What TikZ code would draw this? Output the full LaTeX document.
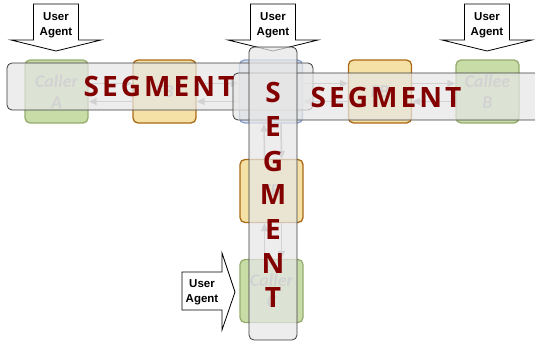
\documentclass[tikz,border=0pt]{standalone}
\usepackage{fontspec}
\setmainfont{Liberation Sans}
\newfontfamily\segfont[LetterSpace=11]{Open Sans}
\newfontfamily\vsegfont{Open Sans}
\newfontfamily\callfont{Carlito}
\usetikzlibrary{arrows.meta}
\definecolor{greenfill}{RGB}{200,220,168}
\definecolor{greenline}{RGB}{150,172,110}
\definecolor{orangefill}{RGB}{245,224,165}
\definecolor{orangeline}{RGB}{170,105,20}
\definecolor{bluefill}{RGB}{215,225,240}
\definecolor{blueline}{RGB}{140,160,205}
\definecolor{segfill}{RGB}{230,230,230}
\definecolor{segline}{RGB}{60,60,60}
\definecolor{segred}{RGB}{130,0,0}
\definecolor{arrgray}{RGB}{160,160,160}
\definecolor{txtgray}{RGB}{160,160,160}
\tikzset{
  box/.style={draw, line width=1.3pt, rounded corners=5pt, minimum width=63pt, minimum height=63pt, inner sep=0pt,
    font=\callfont\bfseries\itshape\fontsize{18}{21}\selectfont, text=txtgray, align=center},
  greenbox/.style={box, fill=greenfill, draw=greenline},
  orangebox/.style={box, fill=orangefill, draw=orangeline},
  bluebox/.style={box, fill=bluefill, draw=blueline},
  flow/.style={draw=arrgray, line width=1.5pt, -{Triangle[length=8pt,width=7pt]}},
  ua/.style={draw=black, fill=white, line width=0.8pt},
  uatext/.style={font=\bfseries\fontsize{11.5}{15}\selectfont, align=center, inner sep=0pt},
  seg/.style={draw=segline, line width=0.8pt, fill=segfill, fill opacity=0.72, rounded corners=5pt, inner sep=0pt},
  segtext/.style={text=segred, font=\segfont\bfseries\fontsize{28}{28}\selectfont, inner sep=0pt},
  vseg/.style={text=segred, font=\vsegfont\bfseries\fontsize{28}{28}\selectfont, inner sep=0pt}
}
\begin{document}
\begin{tikzpicture}[x=1pt,y=-1pt]
\useasboundingbox (0,0) rectangle (535,348);
% underlying nodes
\node[greenbox] (A) at (56.5,91.5) {Caller\\A};
\node[orangebox] (F1) at (164.5,91.5) {FB};
\node[bluebox] (X) at (271,91.5) {};
\node[orangebox] (F2) at (380,91.5) {FB};
\node[greenbox] (B) at (487.5,91.5) {Callee\\B};
\node[orangebox] (F3) at (271.5,191) {FB};
\node[greenbox] (C) at (271.5,291) {Caller\\C};
% flows
\foreach \a/\b in {A/F1, F1/X, X/F2, F2/B}{
  \draw[flow] ([yshift=8pt]\a.east) -- ([yshift=8pt]\b.west);
  \draw[flow] ([yshift=-10pt]\b.west) -- ([yshift=-10pt]\a.east);
}
\foreach \a/\b in {X/F3, F3/C}{
  \draw[flow] ([xshift=-7pt]\b.north) -- ([xshift=-7pt]\a.south);
  \draw[flow] ([xshift=10pt]\a.south) -- ([xshift=10pt]\b.north);
}
% user agent arrows
\draw[ua] (33.5,4) -- (78.5,4) -- (78.5,40) -- (101,40) -- (56,51) -- (11,40) -- (33.5,40) -- cycle;
\node[uatext] (ua1) at (56,25) {User\\Agent};
\draw[ua] (250.5,4) -- (295.5,4) -- (295.5,40) -- (318,40) -- (273,51) -- (228,40) -- (250.5,40) -- cycle;
\node[uatext] (ua2) at (273,25) {User\\Agent};
\draw[ua] (464.5,4) -- (509.5,4) -- (509.5,40) -- (532,40) -- (487,51) -- (442,40) -- (464.5,40) -- cycle;
\node[uatext] (ua3) at (487,25) {User\\Agent};
\draw[ua] (182,272) -- (222,272) -- (222,253) -- (235,292) -- (222,330) -- (222,310) -- (182,310) -- cycle;
\node[uatext] (ua4) at (202,292) {User\\Agent};
% segments
\node[seg, minimum width=306pt, minimum height=47pt] (segL) at (160,86.5) {};
\node[seg, minimum width=312pt, minimum height=47pt] (segR) at (389,96.5) {};
\node[seg, minimum width=48pt, minimum height=293pt] (segV) at (273,193.5) {};
\node[segtext] (tL) at (159,86.5) {SEGMENT};
\node[segtext] (tR) at (386,97) {SEGMENT};
\foreach \l/\yy [count=\i] in {S/92, E/127, G/161, M/195, E/230, N/264, T/298}{
  \node[vseg] (v\i) at (273,\yy) {\l};
}
\end{tikzpicture}
\end{document}
